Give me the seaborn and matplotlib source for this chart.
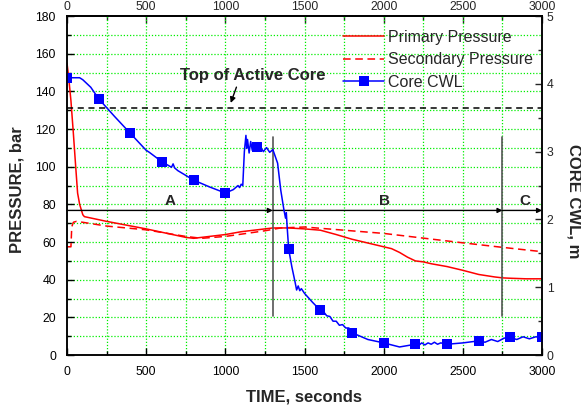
import matplotlib
matplotlib.use("Agg")
import matplotlib.pyplot as plt
import seaborn as sns
import numpy as np
import pandas as pd
from matplotlib.lines import Line2D
from matplotlib.ticker import FixedLocator

# ---------------- data ----------------
prim_t = [0, 10, 25, 40, 55, 67, 80, 100, 110, 250,
          500, 750, 800, 900, 1000, 1100, 1200, 1300, 1400, 1500,
          1600, 1700, 1800, 1900, 2000, 2050, 2100, 2150, 2200, 2250,
          2300, 2400, 2500, 2600, 2700, 2750, 2800, 2900, 3000]
prim_p = [155, 148, 135, 118, 100, 86, 80, 74.5, 73.5, 71,
          67, 62.5, 62, 63, 64, 65.5, 66.5, 67.5, 67.5, 67,
          66.3, 64, 61.5, 59.5, 57.5, 56.5, 54.5, 52, 50, 49.5,
          48.5, 47, 45, 42.8, 41.5, 41, 40.8, 40.5, 40.5]

sec_t = [0, 25, 30, 40, 60, 100, 250, 500, 750, 850,
         1000, 1250, 1350, 1500, 1750, 2000, 2250, 2500, 2750, 3000]
sec_p = [57.5, 57.5, 68, 70.5, 71, 70.5, 68.5, 66.5, 63, 62,
         63, 66, 67.5, 68, 66.3, 64.6, 62.1, 59.6, 57.2, 54.9]

cwl_t = [0, 30, 80, 100, 150, 200, 300, 400, 500, 520,
         600, 660, 670, 680, 700, 800, 900, 1000, 1050, 1080,
         1090, 1100, 1110, 1120, 1130, 1135, 1140, 1150, 1160, 1170,
         1180, 1200, 1220, 1240, 1260, 1280, 1300, 1330, 1350, 1370,
         1380, 1385, 1390, 1400, 1420, 1440, 1450, 1460, 1470, 1480,
         1500, 1550, 1600, 1620, 1640, 1660, 1680, 1700, 1720, 1740,
         1760, 1780, 1800, 1900, 2000, 2100, 2200, 2220, 2240, 2260,
         2280, 2300, 2320, 2340, 2360, 2400, 2500, 2600, 2640, 2680,
         2720, 2760, 2800, 2840, 2880, 2920, 2960, 3000]
cwl_m = [4.08, 4.09, 4.09, 4.06, 3.95, 3.78, 3.52, 3.27, 3.02, 2.99,
         2.85, 2.77, 2.82, 2.76, 2.72, 2.58, 2.48, 2.39, 2.44, 2.50,
         2.47, 2.52, 2.50, 3.00, 3.24, 3.05, 3.18, 2.98, 3.15, 3.02,
         3.12, 3.07, 3.08, 3.00, 3.06, 2.99, 3.03, 2.83, 2.43, 2.14,
         2.02, 2.10, 1.90, 1.56, 1.30, 1.08, 0.96, 1.02, 0.95, 0.98,
         0.91, 0.78, 0.66, 0.64, 0.58, 0.57, 0.50, 0.50, 0.44, 0.45,
         0.40, 0.40, 0.33, 0.23, 0.18, 0.12, 0.16, 0.14, 0.18, 0.15,
         0.18, 0.16, 0.19, 0.16, 0.18, 0.16, 0.18, 0.21, 0.19, 0.23,
         0.20, 0.25, 0.26, 0.23, 0.27, 0.24, 0.27, 0.26]
marker_times = [0, 200, 400, 600, 800, 1000, 1200, 1400, 1600, 1800, 2000, 2200, 2400,
                2600, 2800, 3000]

time_ticks = [0, 500, 1000, 1500, 2000, 2500, 3000]
time_minor = [250, 750, 1250, 1750, 2250, 2750]
pres_ticks = [0, 20, 40, 60, 80, 100, 120, 140, 160, 180]
pres_minor = [10, 30, 50, 70, 90, 110, 130, 150, 170]
cwl_ticks = [0, 1, 2, 3, 4, 5]
cwl_minor = [0.5, 1.5, 2.5, 3.5, 4.5]

top_core_m = 3.65
arrow_p = 76.8
phase_bounds = [0, 1300, 2750, 3000]
phase_labels = ["A", "B", "C"]
phase_label_t = [650, 2005, 2890]

# ---------------- style ----------------
sns.set_theme(style="ticks")
plt.rcParams['font.family'] = ['Liberation Sans', 'DejaVu Sans']

fig = plt.figure(figsize=(5.81, 4.11), dpi=100)
ax = fig.add_axes([0.1153, 0.136, 0.8177, 0.825])
ax2 = ax.twinx()

prim = pd.DataFrame({"t": prim_t, "p": prim_p})
sec = pd.DataFrame({"t": sec_t, "p": sec_p})
cwl = pd.DataFrame({"t": cwl_t, "m": cwl_m})

sns.lineplot(data=prim, x="t", y="p", ax=ax, color="red", lw=1.1, sort=False)
sns.lineplot(data=sec, x="t", y="p", ax=ax, color="red", lw=1.1, sort=False,
             linestyle=(0, (5, 3)))
mk_idx = [cwl_t.index(v) for v in marker_times]
sns.lineplot(data=cwl, x="t", y="m", ax=ax2, color="blue", lw=1.1, sort=False,
             marker="s", markersize=7.4, markevery=mk_idx, markeredgewidth=0)

ax.set_xlim(0, 3000)
ax.set_ylim(0, 180)
ax2.set_ylim(0, 5)

# grid
for v in time_minor + time_ticks[1:-1]:
    ax.axvline(v, color="#00ee00", ls=(0, (1, 1.5)), lw=0.9, zorder=0.5)
for v in pres_minor + pres_ticks[1:-1]:
    ax.axhline(v, color="#00ee00", ls=(0, (1, 1.5)), lw=0.9, zorder=0.5)

# top of active core
ax2.axhline(top_core_m, color="black", ls=(0, (4, 3)), lw=1.1)
ax2.annotate("", xy=(1028, 3.68), xytext=(1076, 3.99),
             arrowprops=dict(arrowstyle="-|>", color="black", lw=1, mutation_scale=8))
ax.text(1173, 148.5, "Top of Active Core", ha="center", va="center",
        fontsize=12, fontweight="bold")

# phase markers
for x0, x1 in zip(phase_bounds[:-1], phase_bounds[1:]):
    ax.annotate("", xy=(x1, arrow_p), xytext=(x0, arrow_p),
                arrowprops=dict(arrowstyle="-|>", color="black", lw=1,
                                mutation_scale=7, shrinkA=0, shrinkB=0))
for lt, lab in zip(phase_label_t, phase_labels):
    ax.text(lt, arrow_p + 1.5, lab, ha="center", va="bottom", fontsize=11,
            fontweight="bold")
for xb in phase_bounds[1:3]:
    ax.plot([xb, xb], [21, 116], color="#555555", lw=1.2)

# ticks
ax.xaxis.set_major_locator(FixedLocator(time_ticks))
ax.xaxis.set_minor_locator(FixedLocator(time_minor))
ax.yaxis.set_major_locator(FixedLocator(pres_ticks))
ax.yaxis.set_minor_locator(FixedLocator(pres_minor))
ax2.yaxis.set_major_locator(FixedLocator(cwl_ticks))
ax2.yaxis.set_minor_locator(FixedLocator(cwl_minor))
ax.tick_params(axis="both", which="both", direction="in", labelsize=8.8, width=1,
               colors="black")
ax.tick_params(axis="x", which="both", pad=8)
ax.tick_params(axis="y", which="both", pad=8)
ax.tick_params(which="major", length=5)
ax.tick_params(which="minor", length=3)

top = ax.secondary_xaxis("top")
top.xaxis.set_major_locator(FixedLocator(time_ticks))
top.xaxis.set_minor_locator(FixedLocator(time_minor))
top.tick_params(which="both", direction="in", labelsize=8.8, width=1, pad=2.5)
top.tick_params(which="major", length=5)
top.tick_params(which="minor", length=3)

ax2.tick_params(axis="y", which="both", direction="in", labelsize=8.8, width=1, pad=3.5)
ax2.tick_params(which="major", length=5)
ax2.tick_params(which="minor", length=3)
for a in (ax, ax2, top):
    for s in a.spines.values():
        s.set_linewidth(1.1)
        s.set_color("black")

ax.set_xlabel("TIME, seconds", fontsize=12, fontweight="bold", va="center")
ax.xaxis.set_label_coords(0.499, -0.124)
ax.set_ylabel("PRESSURE, bar", fontsize=12, fontweight="bold", va="center")
ax.yaxis.set_label_coords(-0.106, 0.487)
ax2.set_ylabel("CORE CWL, m", fontsize=12, fontweight="bold", rotation=270,
               va="center", ha="center")
ax2.yaxis.set_label_coords(1.067, 0.454)

handles = [Line2D([], [], color="red", lw=1.1),
           Line2D([], [], color="red", lw=1.1, ls=(0, (5, 3))),
           Line2D([], [], color="blue", lw=1.1, marker="s", markersize=7.4,
                  markeredgewidth=0)]
ax2.legend(handles, ["Primary Pressure", "Secondary Pressure", "Core CWL"],
           loc="upper right", bbox_to_anchor=(1.0, 0.985), frameon=False,
           fontsize=11.5, handlelength=2.6, labelspacing=0.46, handletextpad=0.25,
           borderaxespad=0.15)

fig.savefig("out.png", dpi=100)
